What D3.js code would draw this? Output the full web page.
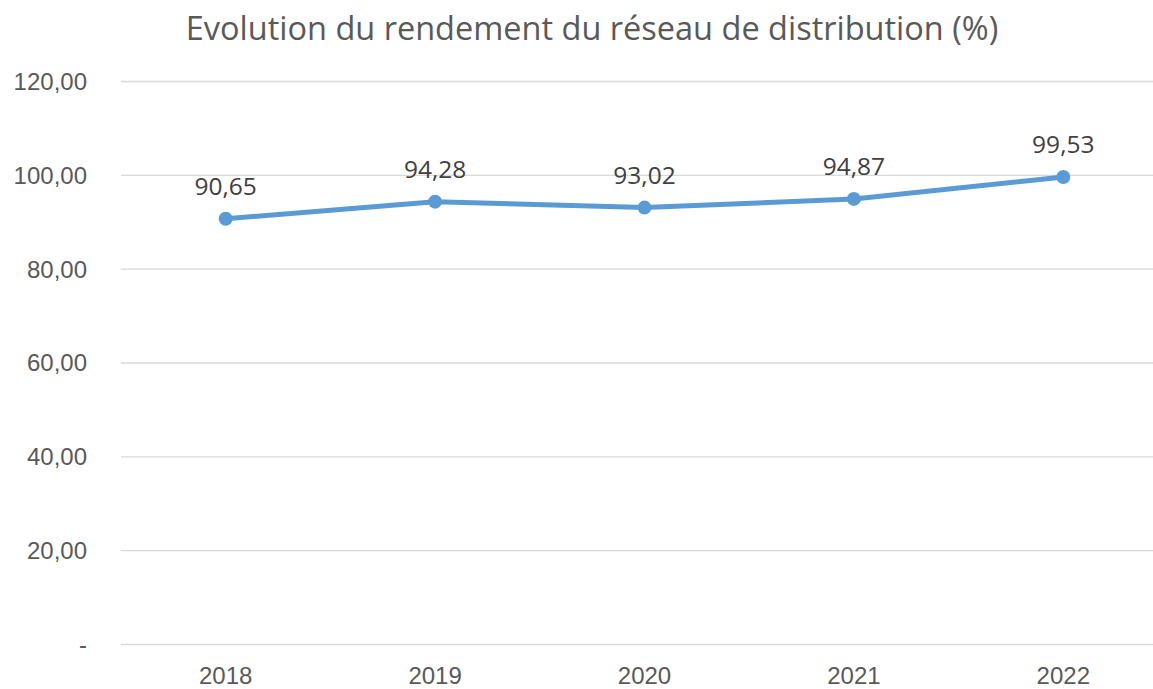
<!DOCTYPE html>
<meta charset="utf-8">
<style>
body { margin: 0; background: #fff; }
svg { font-family: "Open Sans", "Noto Sans", sans-serif; }
.grid line { stroke: #d9d9d9; stroke-width: 1.3px; }
.grid .domain { display: none; }
.axis text { fill: #595959; font-size: 24px; }
.axis .domain, .axis line { display: none; }
.title { fill: #595959; font-size: 32.5px; }
.label { fill: #404040; font-size: 24.5px; }
</style>
<body>
<script src="https://d3js.org/d3.v7.min.js"></script>
<script>

var years = ["2018", "2019", "2020", "2021", "2022"];
var rendement = [90.65, 94.28, 93.02, 94.87, 99.53];
var yTicks = [0, 20, 40, 60, 80, 100, 120];

var width = 1153,
    height = 689,
    margin = {top: 81, right: -15, bottom: 45, left: 121};

var fmt = function(v) { return v === 0 ? "-" : v.toFixed(2).replace(".", ","); };

var x = d3.scaleBand()
    .domain(years)
    .range([margin.left, width - margin.right]);

var y = d3.scaleLinear()
    .domain([0, 120])
    .range([height - margin.bottom, margin.top]);

var svg = d3.select("body").append("svg")
    .attr("width", width)
    .attr("height", height);

svg.append("text")
    .attr("class", "title")
    .attr("x", 592)
    .attr("y", 40)
    .attr("text-anchor", "middle")
    .text("Evolution du rendement du réseau de distribution (%)");

svg.append("g")
    .attr("class", "grid")
    .attr("transform", "translate(" + margin.left + ",0)")
    .call(d3.axisLeft(y).tickValues(yTicks).tickSize(-(width - margin.right - margin.left)).tickFormat(""));

svg.append("g")
    .attr("class", "axis")
    .attr("transform", "translate(" + (margin.left - 31) + ",0)")
    .call(d3.axisLeft(y).tickValues(yTicks).tickSize(0).tickFormat(fmt))
  .selectAll("text")
    .attr("dy", "0.35em");

svg.append("g")
    .attr("class", "axis")
    .attr("transform", "translate(0," + (height - margin.bottom + 20) + ")")
    .call(d3.axisBottom(x).tickSize(0))
  .selectAll("text")
    .attr("dy", "0.71em");

var data = years.map(function(d, i) { return {year: d, value: rendement[i]}; });
var cx = function(d) { return x(d.year) + x.bandwidth() / 2; };

var line = d3.line()
    .x(cx)
    .y(function(d) { return y(d.value); });

svg.append("path")
    .datum(data)
    .attr("fill", "none")
    .attr("stroke", "#5b9bd5")
    .attr("stroke-width", 5)
    .attr("stroke-linecap", "round")
    .attr("stroke-linejoin", "round")
    .attr("d", line);

svg.append("g").selectAll("circle")
    .data(data).enter().append("circle")
    .attr("cx", cx)
    .attr("cy", function(d) { return y(d.value); })
    .attr("r", 7)
    .attr("fill", "#5b9bd5");

svg.append("g").selectAll("text")
    .data(data).enter().append("text")
    .attr("class", "label")
    .attr("x", cx)
    .attr("y", function(d) { return y(d.value) - 24; })
    .attr("text-anchor", "middle")
    .text(function(d) { return fmt(d.value); });

</script>
